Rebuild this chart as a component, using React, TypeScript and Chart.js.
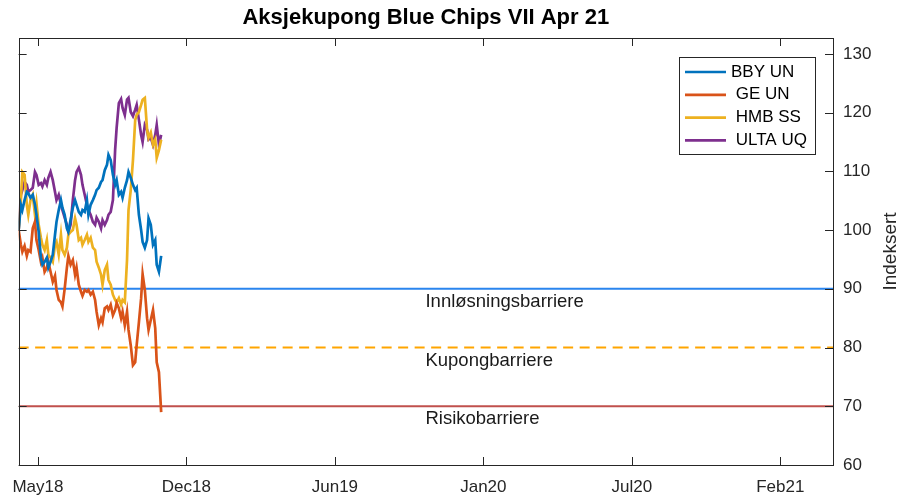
import React, { useEffect, useRef } from "react";
import { Chart, registerables } from "chart.js";

Chart.register(...registerables);

// Calendar day offsets from the start date (2018-04-20)
const days = [0, 3, 5, 8, 11, 13, 16, 19, 22, 24, 27, 30, 32, 35, 38, 40, 43, 46, 49, 51, 54, 57, 59, 62, 65, 67, 70, 73, 76, 78, 81, 84, 86, 89, 92, 94, 97, 100, 103, 105, 108, 111, 113, 116, 119, 121, 124, 127, 130, 132, 135, 138, 140, 143, 146, 148, 151, 154, 157, 159, 162, 165, 167, 170, 173, 175, 178, 181, 184, 186, 189, 192];

const bbyUN = [100.0, 104.3, 103.4, 105.1, 106.5, 106.3, 105.5, 106.0, 104.3, 102.6, 99.7, 95.3, 94.1, 94.6, 95.3, 93.6, 94.6, 95.8, 99.2, 101.4, 103.4, 105.1, 103.8, 102.6, 100.3, 99.7, 101.7, 103.8, 105.1, 104.3, 103.1, 102.6, 103.4, 103.1, 105.1, 102.6, 104.3, 105.1, 106.0, 106.8, 107.2, 108.2, 108.5, 110.2, 111.1, 112.8, 111.9, 109.4, 107.7, 108.5, 106.0, 106.5, 105.5, 107.2, 108.5, 109.9, 108.9, 107.7, 106.8, 107.2, 102.6, 100.0, 98.0, 97.0, 98.3, 102.0, 100.9, 97.5, 98.3, 94.1, 92.9, 95.6];

const geUN = [100.0, 97.5, 96.3, 97.3, 95.6, 96.6, 96.3, 100.3, 101.4, 98.3, 96.6, 94.6, 95.3, 92.9, 93.6, 94.6, 92.9, 91.2, 92.2, 89.8, 88.1, 87.7, 87.0, 90.0, 93.6, 95.6, 94.1, 94.9, 92.4, 93.6, 90.7, 89.5, 88.8, 89.8, 89.5, 89.8, 89.0, 89.5, 88.1, 86.1, 83.8, 85.0, 84.3, 86.7, 87.0, 86.4, 87.3, 85.5, 86.4, 87.6, 86.7, 85.0, 86.1, 83.8, 86.1, 83.0, 80.4, 77.0, 77.5, 80.4, 84.3, 88.4, 92.5, 89.8, 85.0, 83.0, 84.7, 86.4, 83.3, 77.5, 75.8, 69.0];

const hmbSS = [100.0, 105.1, 109.9, 109.4, 104.3, 102.6, 105.1, 106.0, 102.6, 104.6, 100.9, 98.7, 97.5, 96.6, 98.3, 95.8, 95.3, 94.6, 97.5, 98.0, 95.8, 99.2, 96.6, 95.8, 97.0, 99.2, 99.7, 100.0, 102.0, 100.9, 98.3, 98.7, 97.5, 98.3, 99.2, 98.0, 98.7, 97.0, 96.6, 94.6, 93.6, 92.4, 90.7, 93.2, 94.1, 91.5, 90.7, 89.0, 88.1, 87.7, 88.4, 87.3, 88.1, 87.7, 94.9, 103.4, 106.8, 111.9, 118.7, 119.6, 120.1, 121.3, 122.2, 122.5, 117.1, 115.7, 116.6, 114.5, 115.4, 112.3, 113.6, 115.4];

const ultaUQ = [100.0, 106.0, 106.8, 108.2, 107.7, 106.5, 106.8, 107.2, 109.9, 109.4, 107.7, 108.0, 107.4, 108.5, 107.7, 108.9, 109.9, 108.5, 106.5, 105.1, 106.0, 104.3, 103.4, 102.1, 100.9, 99.7, 100.9, 105.1, 108.5, 109.9, 110.6, 109.4, 107.7, 106.0, 104.3, 103.4, 102.6, 101.4, 100.9, 102.1, 101.4, 100.3, 101.7, 100.9, 101.7, 102.6, 103.1, 105.1, 113.7, 117.4, 121.6, 122.3, 120.8, 119.6, 122.2, 122.5, 120.1, 119.4, 120.5, 121.3, 118.8, 116.2, 115.0, 117.9, 117.1, 115.4, 115.7, 114.5, 116.2, 117.9, 114.5, 116.2];

const seriesLabels = ["BBY UN", " GE UN", " HMB SS", " ULTA UQ"];
const seriesColors = ["#0072BD", "#D95319", "#EDB120", "#7E2F8E"];

const barrierNames = ["Innløsningsbarriere", "Kupongbarriere", "Risikobarriere"];
const barrierLevels = [90, 80, 70];
const barrierColors = ["#2a85ee", "#ffa500", "#c0504d"];

const xTickDays = [26, 226, 426, 626, 826, 1026];
const xTickLabels = ["May18", "Dec18", "Jun19", "Jan20", "Jul20", "Feb21"];
const yTicks = [60, 70, 80, 90, 100, 110, 120, 130];

const X_MIN = 0;
const X_MAX = 1097;
const Y_MIN = 60;
const Y_MAX = 132.7;
const LABEL_DAY = 548;

const chartTitle = "Aksjekupong Blue Chips VII Apr 21";
const yTitle = "Indeksert";

const FONT = "'Liberation Sans', Arial, Helvetica, sans-serif";
const TEXT = "#262626";

export default function App() {
  const ref = useRef<HTMLCanvasElement | null>(null);

  useEffect(() => {
    document.body.style.margin = "0";
    const canvas = ref.current;
    if (!canvas) return;

    const seriesData = [bbyUN, geUN, hmbSS, ultaUQ];
    const datasets: any[] = seriesData.map((vals, i) => ({
      label: seriesLabels[i],
      data: days.map((d, j) => ({ x: d, y: vals[j] })),
      borderColor: seriesColors[i],
      backgroundColor: seriesColors[i],
      borderWidth: 2.7,
      pointRadius: 0,
      tension: 0,
      order: 1,
    }));
    barrierLevels.forEach((lvl, i) => {
      datasets.push({
        label: barrierNames[i],
        data: [
          { x: X_MIN, y: lvl },
          { x: X_MAX, y: lvl },
        ],
        borderColor: barrierColors[i],
        borderWidth: 2,
        borderDash: i === 1 ? [10, 6.5] : [],
        pointRadius: 0,
        order: 5,
      });
    });

    const decor = {
      id: "decor",
      afterDatasetsDraw(chart: any) {
        const ctx = chart.ctx;
        const { left, right, top, bottom } = chart.chartArea;
        const xs = chart.scales.x;
        const ys = chart.scales.y;
        ctx.save();
        // barrier labels
        ctx.fillStyle = "#1a1a1a";
        ctx.font = `18.5px ${FONT}`;
        ctx.textAlign = "left";
        ctx.textBaseline = "middle";
        barrierLevels.forEach((lvl, i) => {
          ctx.fillText(barrierNames[i], xs.getPixelForValue(LABEL_DAY), ys.getPixelForValue(lvl) + 13);
        });
        // box
        ctx.strokeStyle = TEXT;
        ctx.lineWidth = 1;
        ctx.strokeRect(Math.round(left) + 0.5, Math.round(top) + 0.5, Math.round(right - left), Math.round(bottom - top));
        // ticks inward
        const TL = 8;
        ctx.beginPath();
        xTickDays.forEach((d) => {
          const px = Math.round(xs.getPixelForValue(d)) + 0.5;
          ctx.moveTo(px, bottom);
          ctx.lineTo(px, bottom - TL);
          ctx.moveTo(px, top);
          ctx.lineTo(px, top + TL);
        });
        yTicks.forEach((v) => {
          const py = Math.round(ys.getPixelForValue(v)) + 0.5;
          ctx.moveTo(right, py);
          ctx.lineTo(right - TL, py);
          ctx.moveTo(left, py);
          ctx.lineTo(left + TL, py);
        });
        ctx.stroke();
        // legend
        const lx = 679, ly = 57, lw = 136, lh = 97;
        ctx.fillStyle = "#ffffff";
        ctx.fillRect(lx, ly, lw, lh);
        ctx.strokeStyle = TEXT;
        ctx.lineWidth = 1;
        ctx.strokeRect(lx + 0.5, ly + 0.5, lw, lh);
        ctx.font = `17px ${FONT}`;
        ctx.textBaseline = "middle";
        ctx.textAlign = "left";
        seriesLabels.forEach((lab, i) => {
          const cy = ly + 15 + i * 22.8;
          ctx.strokeStyle = seriesColors[i];
          ctx.lineWidth = 2.7;
          ctx.beginPath();
          ctx.moveTo(lx + 6, cy);
          ctx.lineTo(lx + 47, cy);
          ctx.stroke();
          ctx.fillStyle = "#000000";
          ctx.fillText(lab, lx + 52, cy);
        });
        // title
        ctx.fillStyle = "#000000";
        ctx.font = `bold 22px ${FONT}`;
        ctx.textAlign = "center";
        ctx.textBaseline = "middle";
        ctx.fillText(chartTitle, (left + right) / 2, 18);
        // y title
        ctx.save();
        ctx.translate(891, (top + bottom) / 2);
        ctx.rotate(-Math.PI / 2);
        ctx.fillStyle = TEXT;
        ctx.font = `19px ${FONT}`;
        ctx.textAlign = "center";
        ctx.textBaseline = "middle";
        ctx.fillText(yTitle, 0, 0);
        ctx.restore();
        ctx.restore();
      },
    };

    const chart = new Chart(canvas, {
      type: "line",
      data: { datasets },
      options: {
        animation: false,
        responsive: false,
        maintainAspectRatio: false,
        layout: { padding: { left: 18, top: 38, right: 0, bottom: 0 } },
        plugins: {
          legend: { display: false },
          title: { display: false },
          tooltip: { enabled: false },
        },
        scales: {
          x: {
            type: "linear",
            min: X_MIN,
            max: X_MAX,
            afterBuildTicks: (scale: any) => {
              scale.ticks = xTickDays.map((v) => ({ value: v }));
            },
            afterFit: (scale: any) => {
              scale.height = 31;
            },
            ticks: {
              autoSkip: false,
              maxRotation: 0,
              padding: 12,
              color: TEXT,
              font: { family: FONT, size: 17 },
              callback: (v: any) => {
                const idx = xTickDays.indexOf(Number(v));
                return idx >= 0 ? xTickLabels[idx] : "";
              },
            },
            grid: { display: false, drawTicks: false },
            border: { display: false },
          },
          y: {
            type: "linear",
            position: "right",
            min: Y_MIN,
            max: Y_MAX,
            afterBuildTicks: (scale: any) => {
              scale.ticks = yTicks.map((v) => ({ value: v }));
            },
            afterFit: (scale: any) => {
              scale.width = 66;
            },
            ticks: {
              padding: 10,
              color: TEXT,
              font: { family: FONT, size: 17 },
              callback: (v: any) => String(v),
            },
            grid: { display: false, drawTicks: false },
            border: { display: false },
          },
        },
      },
      plugins: [decor],
    });
    return () => chart.destroy();
  }, []);

  return (
    <div style={{ position: "fixed", left: 0, top: 0, width: 899, height: 496, background: "#fff" }}>
      <canvas ref={ref} width={899} height={496} style={{ width: 899, height: 496 }} />
    </div>
  );
}
